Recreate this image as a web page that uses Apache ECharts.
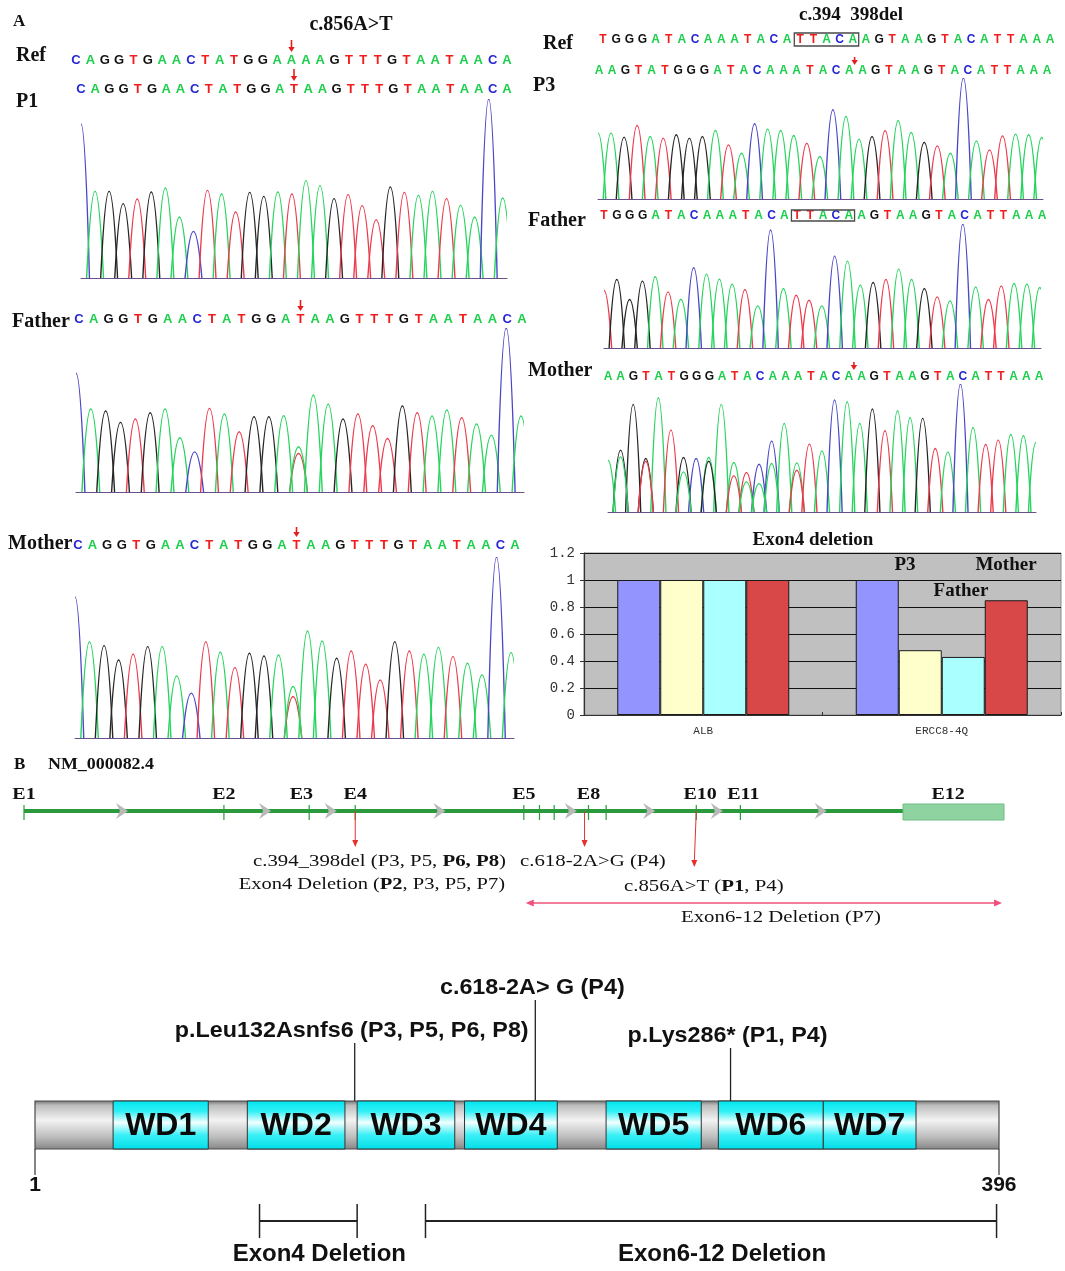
<!DOCTYPE html>
<html>
<head>
<meta charset="utf-8">
<title>ERCC8 variants</title>
<script src="https://cdn.jsdelivr.net/npm/echarts@6/dist/echarts.min.js"></script>
<style>
html, body { margin: 0; padding: 0; background: #fff; }
#main { width: 1065px; height: 1271px; }
</style>
</head>
<body>
<div id="main"></div>
<script>
// ---- A: called sequences ----
var leftRefSeq     = 'CAGGTGAACTATGGAAAAGTTTGTAATAACA';
var leftP1Seq      = 'CAGGTGAACTATGGATAAGTTTGTAATAACA';
var leftFatherSeq  = 'CAGGTGAACTATGGATAAGTTTGTAATAACA';
var leftMotherSeq  = 'CAGGTGAACTATGGATAAGTTTGTAATAACA';
var rightRefSeq    = 'TGGGATACAAATACATTACAAGTAAGTACATTAAA';
var rightP3Seq     = 'AAGTATGGGATACAAATACAAGTAAGTACATTAAA';
var rightFatherSeq = 'TGGGATACAAATACATTACAAGTAAGTACATTAAA';
var rightMotherSeq = 'AAGTATGGGATACAAATACAAGTAAGTACATTAAA';

// ---- A: trace peaks (base of each peak + height, relative units) ----
var p1TraceBases = 'CAGGTGAACTATGGATAAGTTTGTAATAACA';
var p1Peaks = [462, 260, 260, 223, 237, 258, 270, 183, 140, 263, 252, 198, 257, 245, 258, 252,
  292, 277, 238, 250, 217, 175, 273, 257, 248, 260, 238, 218, 183, 537, 240];
var fatherLTraceBases = 'CAGGTGAACTATGGATAAGTTTGTAATAACA';
var fatherLPeaks = [355, 248, 242, 208, 218, 237, 248, 162, 120, 250, 233, 180, 225, 225, 228, 115,
  290, 262, 218, 233, 198, 160, 257, 237, 227, 245, 222, 203, 170, 490, 227];
var fatherLExtra = [[15, 'A', 135]];
var motherLTraceBases = 'CAGGTGAACTATGGATAAGTTTGTAATAACA';
var motherLPeaks = [425, 290, 278, 235, 252, 275, 275, 187, 135, 290, 258, 212, 255, 247, 250, 125,
  322, 292, 240, 262, 222, 175, 290, 262, 252, 273, 245, 225, 190, 545, 257];
var motherLExtra = [[15, 'A', 155]];

var p3TraceBases = 'AAGTATGGGATACAAATACAAGTAAGTACATTAAA';
var p3Peaks = [197, 197, 185, 220, 187, 182, 192, 182, 187, 205, 162, 137, 225, 209, 205, 190, 167,
  127, 267, 247, 179, 187, 204, 234, 199, 170, 159, 137, 362, 174, 147, 189, 194, 192, 184];
var fatherRTraceBases = 'TGGGATACAAATACATTACAAGTAAGTACATTAAA';
var fatherRPeaks = [173, 205, 145, 200, 213, 168, 146, 240, 221, 206, 191, 175, 126, 353, 178, 158,
  143, 126, 275, 260, 188, 196, 205, 236, 205, 178, 153, 141, 371, 183, 145, 186, 193, 191, 181];
var motherRTraceBases = 'AGGGATGCAAATCCAATACAAGTAAGTACATTAAA';
var motherRPeaks = [155, 185, 322, 160, 342, 245, 163, 160, 163, 322, 148, 118, 143, 212, 265, 147,
  203, 183, 335, 330, 265, 308, 243, 303, 282, 280, 190, 180, 383, 252, 202, 215, 232, 228, 208];
var motherRExtra = [[1, 'A', 165], [3, 'T', 152], [6, 'A', 120], [8, 'G', 152], [10, 'T', 108],
  [11, 'A', 90], [12, 'A', 85], [13, 'A', 145], [15, 'T', 125]];

var pointMutationSite = 15;      // c.856A>T
var deletionSite = 19.4;         // c.394_398del breakpoint
var deletedBases = [15, 19];     // TTACA

// ---- A: qPCR exon4 deletion ----
var qpcrGenes = ['ALB', 'ERCC8-4Q'];
var qpcrControl = [1, 1];
var qpcrP3 = [1, 0.48];
var qpcrFather = [1, 0.43];
var qpcrMother = [1, 0.85];

// ---- B: transcript schematic (0 = E1, 100 = end of E12) ----
var exonTicks = [0, 20.4, 29.1, 33.8, 51.0, 52.6, 54.1, 57.6, 59.4, 68.6, 73.1];
var exonNames = ['E1', 'E2', 'E3', 'E4', 'E5', 'E8', 'E10', 'E11', 'E12'];
var exonNamePos = [0, 20.4, 28.3, 33.8, 51.0, 57.6, 69.0, 73.4, 94.3];
var intronArrows = [10, 24.6, 31.3, 42.4, 55.8, 63.8, 70.7, 81.3];
var lastExon = [89.7, 100];
var variantArrows = [[33.8, 33.8], [57.2, 57.2], [68.6, 68.4]];
var exon6to12Span = [51.2, 99.8];

// ---- B: protein (aa 1-396) ----
var proteinLength = 396;
var wdNames = ['WD1', 'WD2', 'WD3', 'WD4', 'WD5', 'WD6', 'WD7'];
var wdStart = [33, 88, 133, 177, 235, 281, 324];
var wdEnd = [72, 128, 173, 215, 274, 324, 362];
var proteinVariants = ['p.Leu132Asnfs6 (P3, P5, P6, P8)', 'c.618-2A> G (P4)', 'p.Lys286* (P1, P4)'];
var proteinVariantPos = [132, 206, 286];
var deletionNames = ['Exon4 Deletion', 'Exon6-12 Deletion'];
var deletionStart = [93, 161];
var deletionEnd = [133, 395];

var SERIF = '"Liberation Serif", "Times New Roman", serif';
var SANS = '"Liberation Sans", Arial, sans-serif';
var letterColors = { A: '#1ccf4c', C: '#2626d4', G: '#111111', T: '#f21c1c' };
var traceColors = { A: '#26d45e', C: '#4a46c6', G: '#262626', T: '#ec3b4d' };

var chart = echarts.init(document.getElementById('main'));
var grids = [], xAxes = [], yAxes = [], series = [];

function addGrid(box, xAxis, yAxis) {
    var k = grids.length;
    grids.push(box);
    xAxis.gridIndex = k;
    yAxis.gridIndex = k;
    xAxes.push(xAxis);
    yAxes.push(yAxis);
    return k;
}

function textEl(text, x, y, font, align, opts) {
    opts = opts || {};
    var el = {
        type: 'text', x: x, y: y, silent: true,
        style: {
            text: text, x: 0, y: 0, font: font, fill: opts.fill || '#111',
            textAlign: align, textVerticalAlign: 'middle', align: align, verticalAlign: 'middle'
        }
    };
    if (opts.scaleX) el.scaleX = opts.scaleX;
    if (opts.rich) el.style.rich = opts.rich;
    return el;
}

// chromatogram panel
function addTrace(box, span, bases, heights, extra) {
    var codes = [], data = [];
    heights.forEach(function (h, i) { data.push([i, h]); codes.push(bases.charAt(i)); });
    (extra || []).forEach(function (e) { data.push([e[0], e[2]]); codes.push(e[1]); });
    var ymax = Math.max.apply(null, data.map(function (d) { return d[1]; }));
    var k = addGrid(box,
        { type: 'value', min: 0, max: span, axisLine: { show: true, onZero: false, lineStyle: { color: '#6a5088', width: 1 } },
          axisTick: { show: false }, axisLabel: { show: false }, splitLine: { show: false } },
        { type: 'value', min: 0, max: ymax, show: false });
    series.push({
        type: 'custom', xAxisIndex: k, yAxisIndex: k, clip: true, silent: true, data: data,
        renderItem: function (params, api) {
            var i = api.value(0), h = api.value(1);
            var b = api.coord([i, 0]), t = api.coord([i, h]);
            var l = api.coord([i - 0.6, 0])[0], r = api.coord([i + 0.6, 0])[0];
            var x = b[0], y0 = b[1], yt = t[1], hh = y0 - yt;
            var d = 'M' + l + ' ' + y0 +
                ' C' + (x - (x - l) * 0.78) + ' ' + (y0 - hh * 0.45) + ' ' + (x - (x - l) * 0.42) + ' ' + yt + ' ' + x + ' ' + yt +
                ' C' + (x + (r - x) * 0.42) + ' ' + yt + ' ' + (x + (r - x) * 0.78) + ' ' + (y0 - hh * 0.45) + ' ' + r + ' ' + y0;
            return { type: 'path', shape: { pathData: d },
                style: { fill: 'none', stroke: traceColors[codes[params.dataIndex]], lineWidth: 1.4 } };
        }
    });
}

// row of base letters
function addSeqRow(seq, x0, x1, y, size) {
    var k = addGrid({ left: x0, top: y - 1, width: x1 - x0, height: 1 },
        { type: 'value', min: 0, max: seq.length - 1, show: false },
        { type: 'value', min: 0, max: 1, show: false });
    series.push({
        type: 'custom', xAxisIndex: k, yAxisIndex: k, silent: true,
        data: seq.split('').map(function (c, i) { return [i, 0]; }),
        renderItem: function (params, api) {
            var p = api.coord([api.value(0), 0]);
            var c = seq.charAt(params.dataIndex);
            return textEl(c, p[0], p[1], 'bold ' + size + 'px ' + SANS, 'center', { fill: letterColors[c] });
        }
    });
    return k;
}

function addRowArrow(k, pos, up, down) {
    series.push({
        type: 'custom', xAxisIndex: k, yAxisIndex: k, silent: true, data: [[pos, 0]],
        renderItem: function (params, api) {
            var p = api.coord([api.value(0), 0]);
            var x = p[0], y1 = p[1] - up, y2 = p[1] - down;
            return { type: 'group', children: [
                { type: 'line', shape: { x1: x, y1: y1, x2: x, y2: y2 - 4 }, style: { stroke: '#e41f1f', lineWidth: 1.6 } },
                { type: 'polygon', shape: { points: [[x - 3.2, y2 - 5], [x + 3.2, y2 - 5], [x, y2]] }, style: { fill: '#e41f1f' } }
            ] };
        }
    });
}

function addRowBox(k, range, up, down) {
    series.push({
        type: 'custom', xAxisIndex: k, yAxisIndex: k, silent: true, data: [range],
        renderItem: function (params, api) {
            var a = api.coord([api.value(0) - 0.45, 0]), b = api.coord([api.value(1) + 0.45, 0]);
            return { type: 'rect', shape: { x: a[0], y: a[1] - up, width: b[0] - a[0], height: up + down },
                style: { fill: 'none', stroke: '#4a4a4a', lineWidth: 1.3 } };
        }
    });
}

// --- left column: c.856A>T ---
var kLR = addSeqRow(leftRefSeq, 76, 507, 60, 13);
addRowArrow(kLR, pointMutationSite, 20, 8);
var kLP = addSeqRow(leftP1Seq, 81, 507, 89, 13);
addRowArrow(kLP, pointMutationSite, 20, 8);
addTrace({ left: 81, top: 99, width: 426, height: 179 }, 30.3, p1TraceBases, p1Peaks);
var kLF = addSeqRow(leftFatherSeq, 79, 522, 319, 13);
addRowArrow(kLF, pointMutationSite, 19, 8);
addTrace({ left: 76, top: 328, width: 448, height: 164 }, 30.2, fatherLTraceBases, fatherLPeaks, fatherLExtra);
var kLM = addSeqRow(leftMotherSeq, 78, 515, 545, 13);
addRowArrow(kLM, pointMutationSite, 18, 8);
addTrace({ left: 75, top: 557, width: 439, height: 181 }, 30.2, motherLTraceBases, motherLPeaks, motherLExtra);

// --- right column: c.394_398del ---
var kRR = addSeqRow(rightRefSeq, 603, 1050, 40, 12);
addRowBox(kRR, deletedBases, 7, 6);
var kRP = addSeqRow(rightP3Seq, 599, 1047, 71, 12);
addRowArrow(kRP, deletionSite, 14, 6);
addTrace({ left: 598, top: 78, width: 445, height: 121 }, 34.1, p3TraceBases, p3Peaks);
var kRF = addSeqRow(rightFatherSeq, 604, 1042, 216, 12);
addRowBox(kRF, deletedBases, 6, 5);
addTrace({ left: 604, top: 224, width: 437, height: 124 }, 34.1, fatherRTraceBases, fatherRPeaks);
var kRM = addSeqRow(rightMotherSeq, 608, 1039, 377, 12);
addRowArrow(kRM, deletionSite, 15, 7);
addTrace({ left: 608, top: 384, width: 428, height: 128 }, 34.0, motherRTraceBases, motherRPeaks, motherRExtra);

// --- qPCR bar chart ---
var kBar = addGrid({ left: 584, top: 553, width: 477, height: 162, show: true, backgroundColor: '#c0c0c0', borderColor: '#8a8a8a', borderWidth: 1 },
    { type: 'category', data: qpcrGenes,
      axisLine: { lineStyle: { color: '#333', width: 1.2 } },
      axisTick: { show: true, inside: true, length: 3, lineStyle: { color: '#333' } },
      axisLabel: { fontFamily: '"Liberation Mono", "DejaVu Sans Mono", monospace', fontSize: 11, color: '#333', margin: 11 } },
    { type: 'value', min: 0, max: 1.2, interval: 0.2,
      axisLine: { show: true, lineStyle: { color: '#333', width: 1.2 } },
      axisTick: { show: true, length: 4, lineStyle: { color: '#333' } },
      axisLabel: { fontFamily: '"Liberation Mono", "DejaVu Sans Mono", monospace', fontSize: 14, color: '#333', margin: 9 },
      splitLine: { show: true, lineStyle: { color: '#111', width: 1.2 } } });
[['Control', qpcrControl, '#9494ff'], ['P3', qpcrP3, '#ffffcc'], ['Father', qpcrFather, '#aaffff'], ['Mother', qpcrMother, '#d84848']].forEach(function (s) {
    series.push({ name: s[0], type: 'bar', xAxisIndex: kBar, yAxisIndex: kBar, data: s[1], barWidth: 43, barGap: '0%',
        itemStyle: { color: s[2], borderColor: '#1a1a1a', borderWidth: 1 }, silent: true });
});

// --- B: transcript ---
var kGene = addGrid({ left: 24, top: 809, width: 980, height: 2 },
    { type: 'value', min: 0, max: 100, show: false }, { type: 'value', min: 0, max: 1, show: false });
function geneSeries(data, fn) {
    series.push({ type: 'custom', xAxisIndex: kGene, yAxisIndex: kGene, silent: true, data: data, renderItem: fn });
}
geneSeries([[0, lastExon[0]]], function (params, api) {
    var a = api.coord([api.value(0), 0]), b = api.coord([api.value(1), 0]);
    return { type: 'line', shape: { x1: a[0], y1: a[1], x2: b[0], y2: b[1] }, style: { stroke: '#2a9a3c', lineWidth: 4 } };
});
geneSeries([lastExon], function (params, api) {
    var a = api.coord([api.value(0), 0]), b = api.coord([api.value(1), 0]);
    return { type: 'rect', shape: { x: a[0], y: a[1] - 7, width: b[0] - a[0], height: 16 }, style: { fill: '#8fd3a0', stroke: '#6cbf82', lineWidth: 1 } };
});
geneSeries(exonTicks.map(function (v) { return [v, 0]; }), function (params, api) {
    var p = api.coord([api.value(0), 0]);
    return { type: 'line', shape: { x1: p[0], y1: p[1] - 6, x2: p[0], y2: p[1] + 9 }, style: { stroke: '#2a9a3c', lineWidth: 1.2 } };
});
geneSeries(intronArrows.map(function (v) { return [v, 0]; }), function (params, api) {
    var p = api.coord([api.value(0), 0]);
    var x = p[0], y = p[1];
    return { type: 'polygon', shape: { points: [[x - 6, y - 8], [x + 6, y], [x - 6, y + 8], [x - 2, y]] }, style: { fill: '#b9b9b9' } };
});
geneSeries(exonNamePos.map(function (v) { return [v, 0]; }), function (params, api) {
    var p = api.coord([api.value(0), 0]);
    return textEl(exonNames[params.dataIndex], p[0], p[1] - 16, 'bold 16px ' + SERIF, 'center', { scaleX: 1.25 });
});
var arrowLengths = [36, 36, 56];
geneSeries(variantArrows, function (params, api) {
    var a = api.coord([api.value(0), 0]), b = api.coord([api.value(1), 0]);
    var yb = b[1] + arrowLengths[params.dataIndex];
    return { type: 'group', children: [
        { type: 'line', shape: { x1: a[0], y1: a[1], x2: b[0], y2: yb - 5 }, style: { stroke: '#e53030', lineWidth: 1 } },
        { type: 'polygon', shape: { points: [[b[0] - 3, yb - 7], [b[0] + 3, yb - 7], [b[0], yb]] }, style: { fill: '#e53030' } }
    ] };
});
geneSeries([exon6to12Span], function (params, api) {
    var a = api.coord([api.value(0), 0]), b = api.coord([api.value(1), 0]);
    var y = a[1] + 92, c = '#f0507a';
    return { type: 'group', children: [
        { type: 'line', shape: { x1: a[0] + 4, y1: y, x2: b[0] - 4, y2: y }, style: { stroke: c, lineWidth: 1.4 } },
        { type: 'polygon', shape: { points: [[a[0], y], [a[0] + 8, y - 3.5], [a[0] + 8, y + 3.5]] }, style: { fill: c } },
        { type: 'polygon', shape: { points: [[b[0], y], [b[0] - 8, y - 3.5], [b[0] - 8, y + 3.5]] }, style: { fill: c } }
    ] };
});

// --- B: protein ---
var kProt = addGrid({ left: 35, top: 1101, width: 964, height: 48 },
    { type: 'value', min: 1, max: proteinLength, show: false }, { type: 'value', min: 0, max: 1, show: false });
function protSeries(data, fn) {
    series.push({ type: 'custom', xAxisIndex: kProt, yAxisIndex: kProt, silent: true, data: data, renderItem: fn });
}
var grayFill = { type: 'linear', x: 0, y: 0, x2: 0, y2: 1, colorStops: [
    { offset: 0, color: '#6e6e6e' }, { offset: 0.1, color: '#bdbdbd' }, { offset: 0.4, color: '#f3f3f3' },
    { offset: 0.75, color: '#bcbcbc' }, { offset: 1, color: '#858585' }] };
var cyanFill = { type: 'linear', x: 0, y: 0, x2: 0, y2: 1, colorStops: [
    { offset: 0, color: '#00e4ee' }, { offset: 0.22, color: '#30f0f6' }, { offset: 0.45, color: '#f2ffff' },
    { offset: 0.7, color: '#3cf0f6' }, { offset: 1, color: '#00dde8' }] };
protSeries([[1, proteinLength]], function (params, api) {
    var a = api.coord([api.value(0), 1]), b = api.coord([api.value(1), 0]);
    return { type: 'rect', shape: { x: a[0], y: a[1], width: b[0] - a[0], height: b[1] - a[1] }, style: { fill: grayFill, stroke: '#4a4a4a', lineWidth: 1.2 } };
});
protSeries(wdStart.map(function (s, i) { return [s, wdEnd[i]]; }), function (params, api) {
    var a = api.coord([api.value(0), 1]), b = api.coord([api.value(1), 0]);
    return { type: 'group', children: [
        { type: 'rect', shape: { x: a[0], y: a[1], width: b[0] - a[0], height: b[1] - a[1] }, style: { fill: cyanFill, stroke: '#333', lineWidth: 1 } },
        textEl(wdNames[params.dataIndex], (a[0] + b[0]) / 2, (a[1] + b[1]) / 2 + 1, 'bold 32px ' + SANS, 'center', { fill: '#0a0a0a' })
    ] };
});
protSeries([[1], [proteinLength]], function (params, api) {
    var p = api.coord([api.value(0), 0]);
    return { type: 'group', children: [
        { type: 'line', shape: { x1: p[0], y1: p[1], x2: p[0], y2: p[1] + 26 }, style: { stroke: '#333', lineWidth: 1.2 } },
        textEl(String(api.value(0)), p[0], p[1] + 36, 'bold 21px ' + SANS, 'center')
    ] };
});
var stemLengths = [58, 101, 53];
protSeries(proteinVariantPos.map(function (v) { return [v]; }), function (params, api) {
    var p = api.coord([api.value(0), 1]);
    var top = p[1] - stemLengths[params.dataIndex];
    return { type: 'group', children: [
        { type: 'line', shape: { x1: p[0], y1: p[1], x2: p[0], y2: top }, style: { stroke: '#222', lineWidth: 1.3 } },
        textEl(proteinVariants[params.dataIndex], p[0] - 3, top - 12, 'bold 22px ' + SANS, 'center', { scaleX: 1.06 })
    ] };
});
protSeries(deletionStart.map(function (s, i) { return [s, deletionEnd[i]]; }), function (params, api) {
    var a = api.coord([api.value(0), 0]), b = api.coord([api.value(1), 0]);
    var y = a[1] + 72;
    return { type: 'group', children: [
        { type: 'line', shape: { x1: a[0], y1: y, x2: b[0], y2: y }, style: { stroke: '#222', lineWidth: 2 } },
        { type: 'line', shape: { x1: a[0], y1: y - 17, x2: a[0], y2: y + 17 }, style: { stroke: '#222', lineWidth: 1.5 } },
        { type: 'line', shape: { x1: b[0], y1: y - 17, x2: b[0], y2: y + 17 }, style: { stroke: '#222', lineWidth: 1.5 } },
        textEl(deletionNames[params.dataIndex], (a[0] + b[0]) / 2 + 11, y + 33, 'bold 24px ' + SANS, 'center')
    ] };
});

// --- fixed annotation text ---
var boldSerif = function (n) { return 'bold ' + n + 'px ' + SERIF; };
var plainSerif = '16px ' + SERIF;
var boldRich = { b: { font: 'bold 16px ' + SERIF, fill: '#111' } };
var texts = [
    textEl('A', 13, 22, boldSerif(17), 'left'),
    textEl('c.856A>T', 351, 25, boldSerif(20), 'center'),
    textEl('Ref', 16, 56, boldSerif(20), 'left'),
    textEl('P1', 16, 102, boldSerif(20), 'left'),
    textEl('Father', 12, 322, boldSerif(20), 'left'),
    textEl('Mother', 8, 544, boldSerif(20), 'left'),
    textEl('c.394  398del', 851, 15, boldSerif(19), 'center'),
    textEl('Ref', 543, 44, boldSerif(20), 'left'),
    textEl('P3', 533, 86, boldSerif(20), 'left'),
    textEl('Father', 528, 221, boldSerif(20), 'left'),
    textEl('Mother', 528, 371, boldSerif(20), 'left'),
    textEl('Exon4 deletion', 813, 540, boldSerif(19), 'center'),
    textEl('P3', 905, 565, boldSerif(19), 'center'),
    textEl('Mother', 1006, 565, boldSerif(19), 'center'),
    textEl('Father', 961, 591, boldSerif(19), 'center'),
    textEl('B', 14, 765, boldSerif(17), 'left'),
    textEl('NM_000082.4', 48, 765, boldSerif(16), 'left', { scaleX: 1.12 }),
    textEl('c.394_398del (P3, P5, {b|P6, P8})', 506, 862, plainSerif, 'right', { scaleX: 1.3, rich: boldRich }),
    textEl('c.618-2A>G (P4)', 520, 862, plainSerif, 'left', { scaleX: 1.3 }),
    textEl('Exon4 Deletion ({b|P2}, P3, P5, P7)', 505, 885, plainSerif, 'right', { scaleX: 1.28, rich: boldRich }),
    textEl('c.856A>T ({b|P1}, P4)', 624, 887, plainSerif, 'left', { scaleX: 1.3, rich: boldRich }),
    textEl('Exon6-12 Deletion (P7)', 681, 918, plainSerif, 'left', { scaleX: 1.3 })
];

chart.setOption({
    animation: false,
    backgroundColor: '#ffffff',
    grid: grids,
    xAxis: xAxes,
    yAxis: yAxes,
    series: series,
    graphic: texts
});
</script>
</body>
</html>
